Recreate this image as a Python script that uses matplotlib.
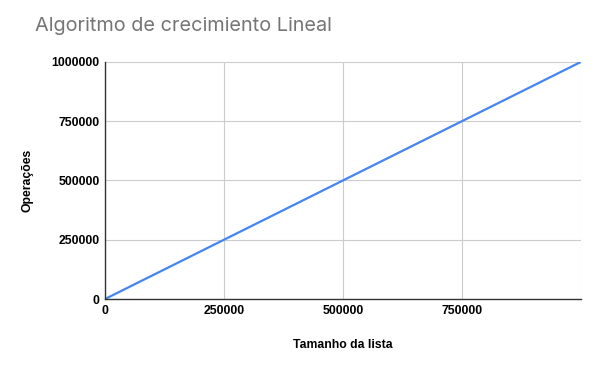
import matplotlib.pyplot as plt
from matplotlib.ticker import FixedLocator

tamanho = [0, 250000, 500000, 750000, 1000000]
operacoes = [0, 250000, 500000, 750000, 1000000]
xticks = [0, 250000, 500000, 750000]
yticks = [0, 250000, 500000, 750000, 1000000]

fig = plt.figure(figsize=(6, 3.71), dpi=100)
ax = fig.add_axes([0.175, 0.194, 0.793, 0.639])

ax.plot(tamanho, operacoes, color='#4285F4', linewidth=1.6, solid_capstyle='round')
ax.set_xlim(0, 1000000)
ax.set_ylim(0, 1000000)
ax.xaxis.set_major_locator(FixedLocator(xticks))
ax.yaxis.set_major_locator(FixedLocator(yticks))
ax.set_xticklabels([str(v) for v in xticks])
ax.set_yticklabels([str(v) for v in yticks])

ax.grid(True, color='#cccccc', linewidth=0.8)
ax.axvline(1000000, color='#cccccc', linewidth=0.8)
ax.set_axisbelow(True)
for s in ['top', 'right']:
    ax.spines[s].set_visible(False)
for s in ['left', 'bottom']:
    ax.spines[s].set_color('#333333')
    ax.spines[s].set_linewidth(1)
ax.tick_params(length=0, pad=4)
for lab in ax.get_xticklabels() + ax.get_yticklabels():
    lab.set_fontfamily('Liberation Sans')
    lab.set_fontweight('bold')
    lab.set_fontsize(8.8)
    lab.set_color('#000000')

ax.set_xlabel('Tamanho da lista', family='Liberation Sans', fontweight='bold', fontsize=8.8, labelpad=16)
ax.set_ylabel('Operações', family='Liberation Sans', fontweight='bold', fontsize=8.8, labelpad=13)

fig.text(0.058, 0.93, 'Algoritmo de crecimiento Lineal', family='Inter', fontsize=14.3, color='#757575', va='center')

plt.savefig('out.png', dpi=100)
